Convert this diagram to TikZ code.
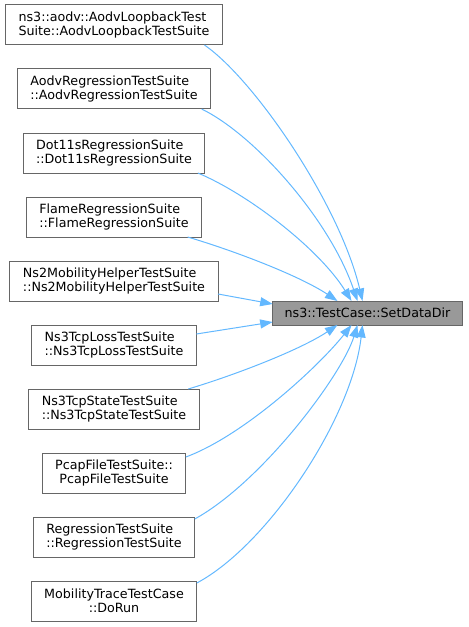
\documentclass[tikz,border=0pt]{standalone}
\usepackage{fontspec}
\setmainfont{DejaVu Sans}
\usetikzlibrary{arrows.meta, positioning}
\definecolor{edgeblue}{HTML}{63B8FF}
\definecolor{boxgray}{HTML}{666666}
\definecolor{targetfill}{HTML}{999999}
\tikzstyle{caller} = [rectangle, draw=boxgray, fill=white, line width=1bp, outer sep=0pt, minimum height=40bp, inner xsep=13bp, inner ysep=2bp, align=left, font=\fontsize{12.7bp}{14.5bp}\selectfont]
\tikzstyle{target} = [caller, fill=targetfill, minimum height=24bp, inner xsep=12bp, align=center]
\tikzstyle{arrow} = [draw=edgeblue, line width=1bp, -{Triangle[length=12.5bp, width=9bp]}]

\begin{document}
\begin{tikzpicture}[x=1bp, y=-1bp, node distance=24bp]
\useasboundingbox (0,0) rectangle (469,627);

% Callers
\node (loop) [caller] at (114,25) {ns3::aodv::AodvLoopbackTest\\Suite::AodvLoopbackTestSuite};
\node (aodv) [caller, below=of loop] {AodvRegressionTestSuite\\::AodvRegressionTestSuite};
\node (dot) [caller, below=of aodv] {Dot11sRegressionSuite\\::Dot11sRegressionSuite};
\node (flame) [caller, below=of dot] {FlameRegressionSuite\\::FlameRegressionSuite};
\node (ns2) [caller, below=of flame] {Ns2MobilityHelperTestSuite\\::Ns2MobilityHelperTestSuite};
\node (tcploss) [caller, below=of ns2] {Ns3TcpLossTestSuite\\::Ns3TcpLossTestSuite};
\node (tcpstate) [caller, below=of tcploss] {Ns3TcpStateTestSuite\\::Ns3TcpStateTestSuite};
\node (pcap) [caller, below=of tcpstate, align=center] {PcapFileTestSuite::\\PcapFileTestSuite};
\node (regr) [caller, below=of pcap] {RegressionTestSuite\\::RegressionTestSuite};
\node (mobtrace) [caller, below=of regr, align=center] {MobilityTraceTestCase\\::DoRun};

% Callee
\node (setdir) [target] at (367.5,313) {ns3::TestCase::SetDataDir};

% Calls
\draw [arrow] ([xshift=-18bp]loop.south east) .. controls (255,80) and (340,205) .. ([xshift=-5bp]setdir.north);
\draw [arrow] ([xshift=-9bp]aodv.south east) .. controls (255,135) and (330,220) .. ([xshift=-10bp]setdir.north);
\draw [arrow] ([xshift=-7bp]dot.south east) .. controls (250,195) and (320,250) .. ([xshift=-16bp]setdir.north);
\draw [arrow] ([xshift=-14bp]flame.south east) .. controls (235,251) and (300,276) .. ([xshift=-30bp]setdir.north);
\draw [arrow] ([yshift=-13bp]ns2.east) -- ([yshift=9bp]setdir.west);
\draw [arrow] ([yshift=11bp]tcploss.east) -- ([yshift=-9bp]setdir.west);
\draw [arrow] ([xshift=-11bp]tcpstate.north east) .. controls (235,375) and (300,350) .. ([xshift=-30bp]setdir.south);
\draw [arrow] ([yshift=-4bp]pcap.north east) .. controls (245,435) and (320,365) .. ([xshift=-16bp]setdir.south);
\draw [arrow] ([yshift=-2bp]regr.north east) .. controls (262,482) and (342,375) .. ([xshift=-10bp]setdir.south);
\draw [arrow] ([yshift=-2bp]mobtrace.north east) .. controls (268,545) and (352,418) .. ([xshift=-5bp]setdir.south);

\end{tikzpicture}
\end{document}
